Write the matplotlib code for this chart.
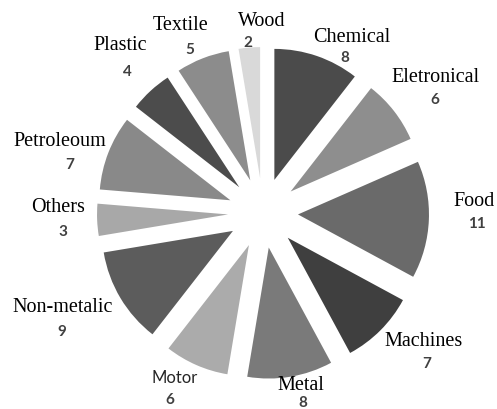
import matplotlib
matplotlib.use("Agg")
import matplotlib.pyplot as plt

# Sectors and number of companies in each
sectors = ["Chemical", "Eletronical", "Food", "Machines", "Metal", "Motor",
           "Non-metalic", "Others", "Petroleoum", "Plastic", "Textile", "Wood"]
counts = [8, 6, 11, 7, 8, 6, 9, 3, 7, 4, 5, 2]

colors = ["#4b4b4b", "#8e8e8e", "#6a6a6a", "#3f3f3f", "#7a7a7a", "#ababab",
          "#5c5c5c", "#a8a8a8", "#898989", "#4c4c4c", "#8c8c8c", "#d9d9d9"]

W, H = 497, 409
fig = plt.figure(figsize=(W / 100, H / 100), dpi=100)
ax = fig.add_axes([0, 0, 1, 1])

cx, cy = 263, H - 213
radius = 131
gap = 35

ax.pie(counts, colors=colors, startangle=90, counterclock=False,
       radius=radius, center=(cx, cy), explode=[gap] * len(counts),
       frame=True, wedgeprops=dict(linewidth=0))
ax.set_xlim(0, W)
ax.set_ylim(0, H)
ax.set_aspect("equal")
ax.axis("off")

# label anchor points (x, y from top) for name and value
name_pos = [(352, 37), (436, 77), (474, 202), (424, 342), (301, 385),
            (175, 378), (63, 308), (58, 208), (60, 142), (120, 45),
            (181, 25), (262, 22)]
value_pos = [(345, 58), (435, 100), (477, 224), (427, 364), (303, 403),
             (170, 400), (62, 332), (63, 232), (70, 165), (127, 72),
             (190, 50), (248, 43)]

for name, n, (nx, ny), (vx, vy) in zip(sectors, counts, name_pos, value_pos):
    if name == "Motor":
        ax.text(nx, H - ny, name, ha="center", va="center",
                family="Lato", fontsize=12, color="#262626")
    else:
        ax.text(nx, H - ny, name, ha="center", va="center",
                family="Liberation Serif", fontsize=14.5, color="black")
    ax.text(vx, H - vy, str(n), ha="center", va="center",
            family="Lato", fontsize=11, fontweight="bold", color="#404040")

fig.savefig("out.png", dpi=100)
